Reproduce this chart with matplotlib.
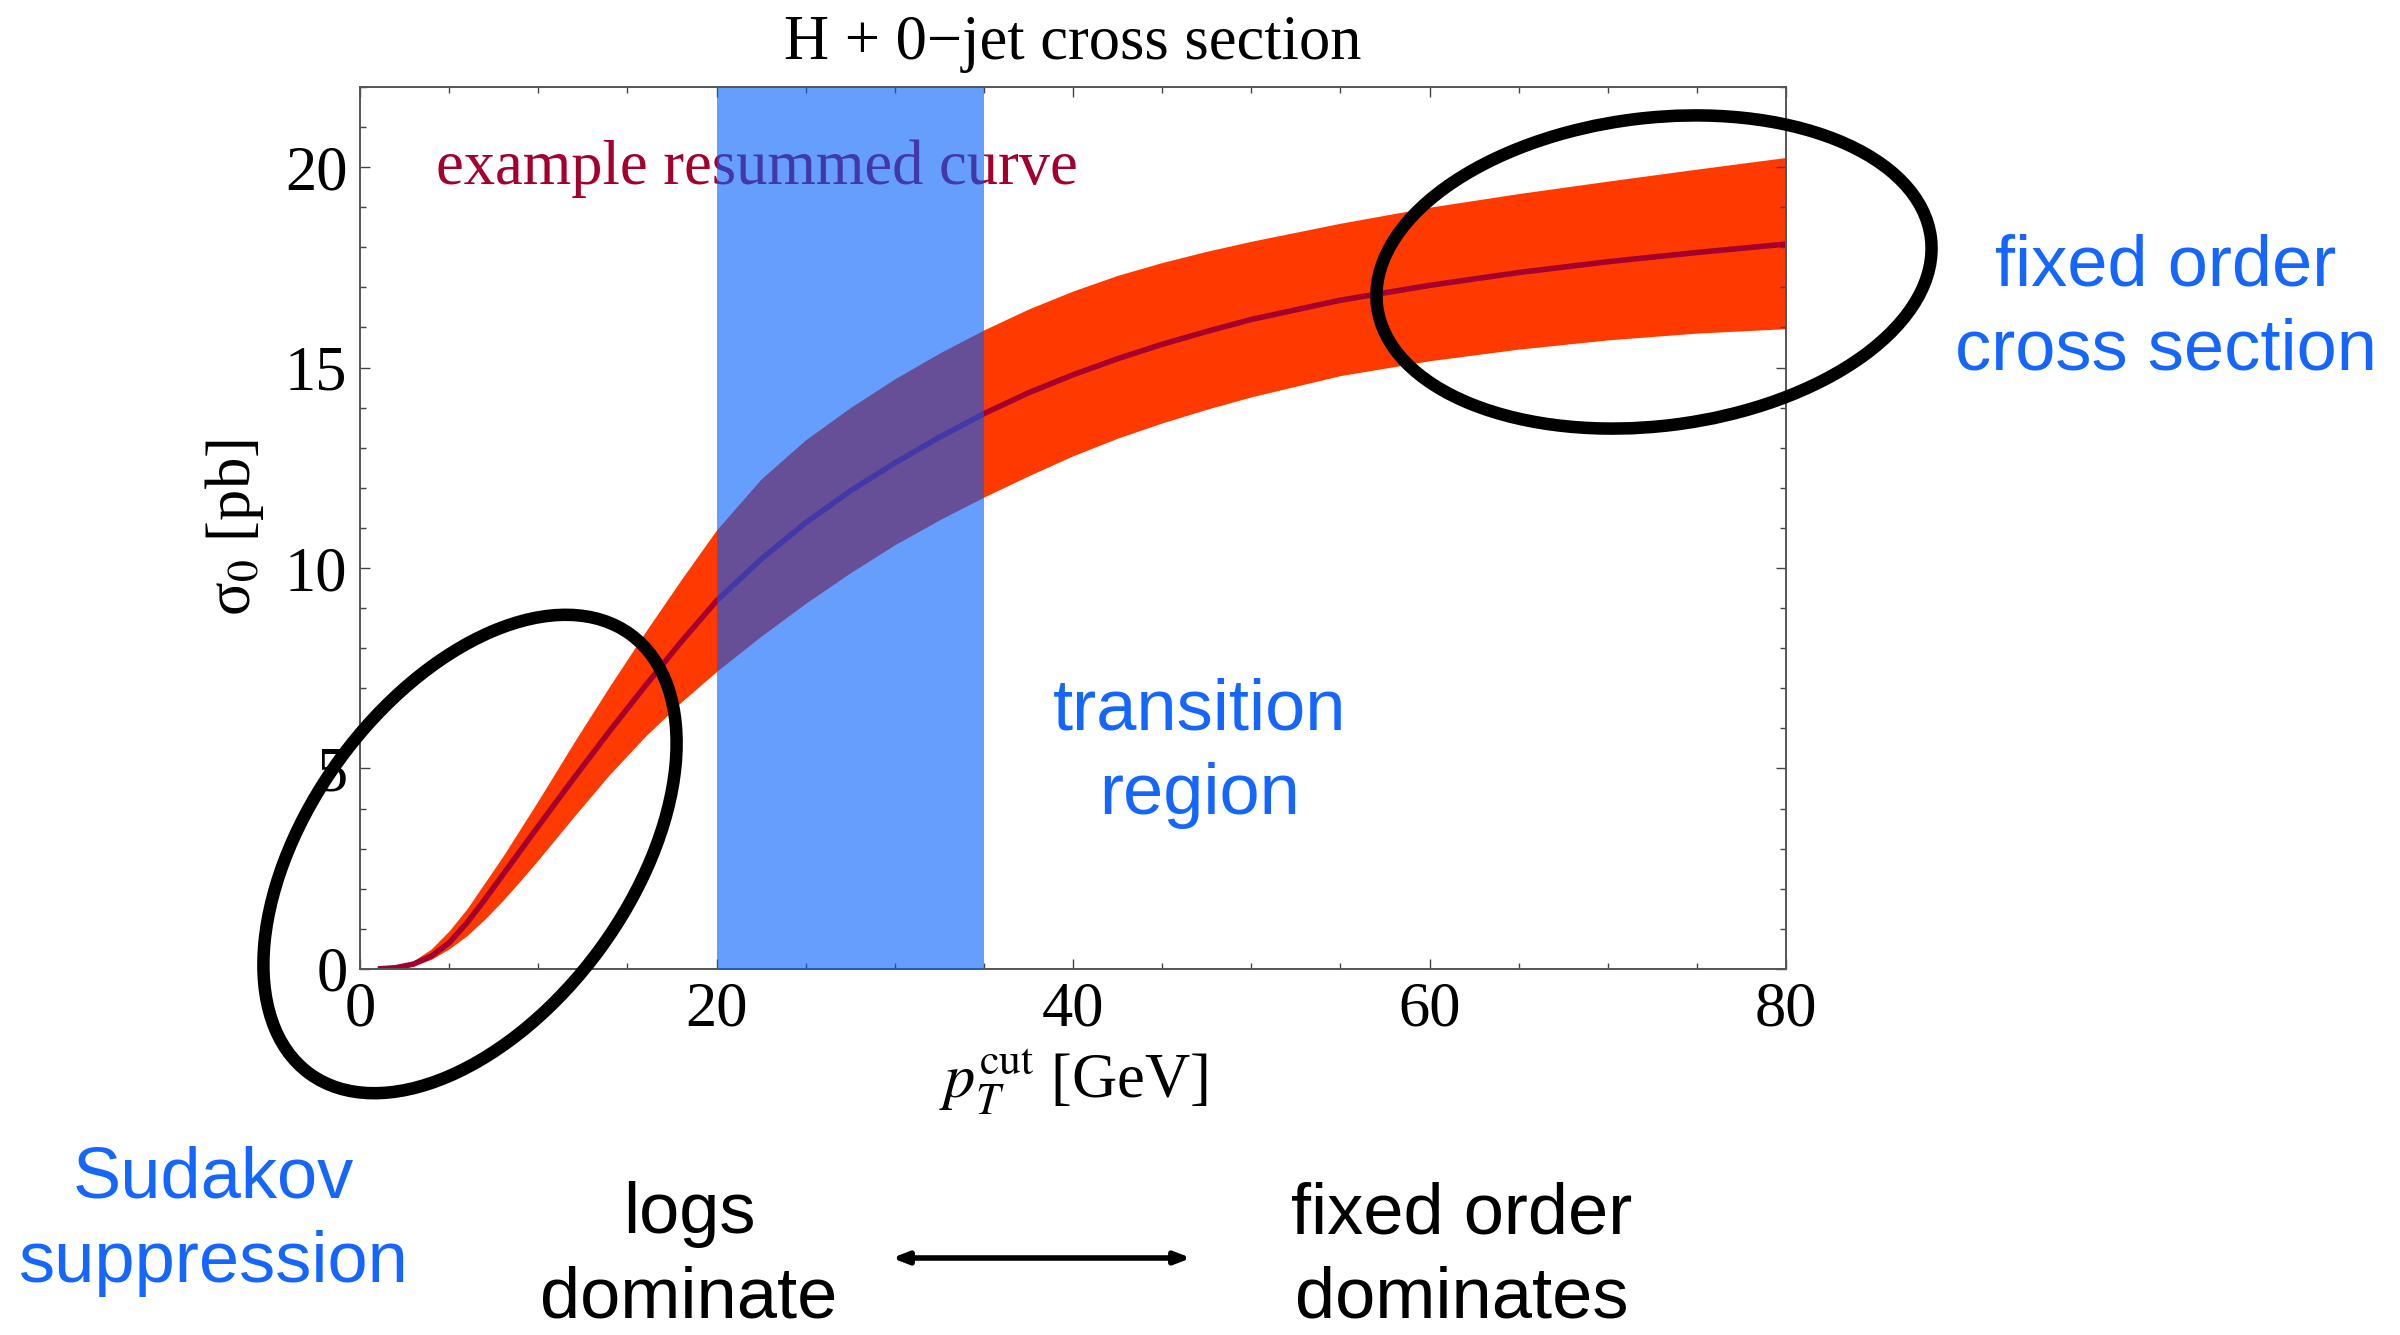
import numpy as np
import matplotlib
matplotlib.use("Agg")
import matplotlib.pyplot as plt
from matplotlib.patches import Ellipse
from matplotlib.ticker import MultipleLocator

plt.rcParams["font.family"] = ["Liberation Serif", "DejaVu Serif"]
plt.rcParams["mathtext.fontset"] = "stix"

# H + 0-jet cross section vs pT cut
pt_cut = [1, 2, 3, 4, 5, 6, 7, 8, 9, 10, 12, 14, 16, 18, 20, 22.5, 25, 27.5, 30, 32.5,
          35, 37.5, 40, 42.5, 45, 47.5, 50, 55, 60, 65, 70, 75, 80]
sigma_central = [0.0, 0.03, 0.12, 0.32, 0.65, 1.15, 1.73, 2.34, 2.95, 3.56, 4.76, 5.93, 7.06, 8.15,
                 9.18, 10.22, 11.13, 11.92, 12.62, 13.26, 13.85, 14.37, 14.82, 15.22, 15.58, 15.9,
                 16.2, 16.68, 17.05, 17.37, 17.64, 17.87, 18.08]
sigma_upper = [0.0, 0.05, 0.2, 0.5, 0.95, 1.5, 2.15, 2.8, 3.5, 4.2, 5.65, 7.05, 8.4, 9.7,
               10.95, 12.22, 13.2, 14.0, 14.72, 15.36, 15.94, 16.46, 16.91, 17.3, 17.62, 17.9,
               18.15, 18.6, 19.0, 19.34, 19.65, 19.95, 20.24]
sigma_lower = [0.0, 0.02, 0.08, 0.24, 0.5, 0.83, 1.24, 1.7, 2.2, 2.72, 3.8, 4.85, 5.8, 6.65,
               7.42, 8.3, 9.12, 9.88, 10.58, 11.2, 11.77, 12.3, 12.8, 13.24, 13.62, 13.96,
               14.27, 14.8, 15.17, 15.46, 15.69, 15.86, 15.97]
transition = (20, 35)

ORANGE, CRIMSON, BAND_BLUE, TXT_BLUE = "#ff3a00", "#a5002d", "#005efc", "#1466ff"
SANS = ["Liberation Sans", "DejaVu Sans"]

fig = plt.figure(figsize=(24, 13.35), dpi=100)
fig.patch.set_facecolor("white")
ax = fig.add_axes([0.15, 0.2742, 0.5942, 0.6607])

ax.fill_between(pt_cut, sigma_lower, sigma_upper, color=ORANGE, lw=0, zorder=1)
ax.plot(pt_cut, sigma_central, color=CRIMSON, lw=4, solid_capstyle="butt", zorder=2)
ax.text(4.26, 19.58, "example resummed curve", color=CRIMSON, fontsize=45, va="baseline", zorder=3)
ax.axvspan(*transition, color=BAND_BLUE, alpha=0.6, lw=0, zorder=4)

ax.set_xlim(0, 80); ax.set_ylim(0, 22)
ax.xaxis.set_major_locator(MultipleLocator(20)); ax.xaxis.set_minor_locator(MultipleLocator(5))
ax.yaxis.set_major_locator(MultipleLocator(5)); ax.yaxis.set_minor_locator(MultipleLocator(1))
ax.tick_params(which="both", direction="in", top=True, right=True, color="#444444", width=1)
ax.tick_params(which="major", length=7.5, labelsize=45, pad=9)
ax.tick_params(which="minor", length=4.5)
for s in ax.spines.values():
    s.set_color("#555555"); s.set_linewidth(1.4)
ax.set_title("H + 0\u2212jet cross section", fontsize=45, pad=20)
ax.set_xlabel(r"$p_T^{\mathrm{cut}}$ [GeV]", fontsize=45, labelpad=6)
ax.set_ylabel("\u03c3$_0$ [pb]", fontsize=45, labelpad=14)

# overlay in pixel coordinates for the hand-drawn annotations
ov = fig.add_axes([0, 0, 1, 1], zorder=5)
ov.set_xlim(0, 2400); ov.set_ylim(1335, 0); ov.axis("off"); ov.patch.set_alpha(0)
ov.add_patch(Ellipse((470, 854), 544, 322, angle=-53.8, fill=False, lw=9, color="black"))
ov.add_patch(Ellipse((1654, 272), 558, 308, angle=-7, fill=False, lw=9, color="black"))

kw = dict(ha="center", va="center", fontsize=52, family=SANS, multialignment="center", linespacing=1.34)
ov.text(2166, 309, "fixed order\ncross section", color=TXT_BLUE, **kw)
ov.text(1200, 753, "transition\nregion", color=TXT_BLUE, **kw)
ov.text(213, 1221, "Sudakov\nsuppression", color=TXT_BLUE, **kw)
ov.text(689, 1257, "logs\ndominate", color="black", **kw)
ov.text(1462, 1257, "fixed order\ndominates", color="black", **kw)
ov.annotate("", xy=(1191, 1258), xytext=(892, 1258),
            arrowprops=dict(arrowstyle="<|-|>,head_length=0.9,head_width=0.35", lw=4, color="black",
                            shrinkA=0, shrinkB=0))

fig.savefig("out.png", dpi=100)
